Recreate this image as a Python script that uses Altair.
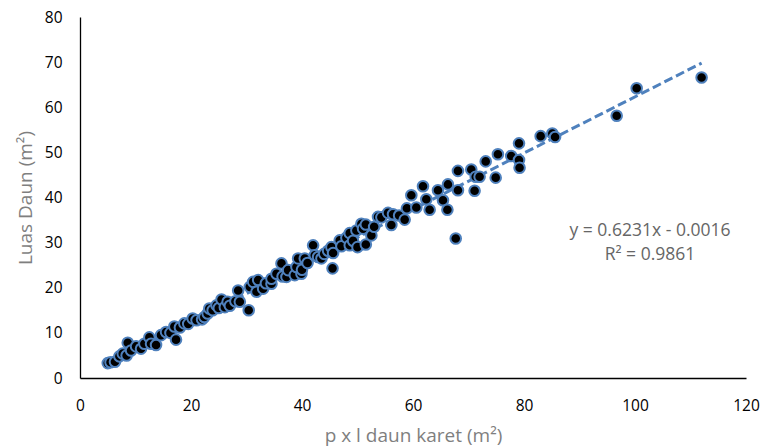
import altair as alt
import pandas as pd

# p x l daun karet (m2)
x_vals = [
    5.0, 5.5, 6.3, 7.1, 7.7, 8.6, 8.4, 9.2, 10.1, 11.0, 11.6, 12.5, 12.8, 13.7, 14.6,
    15.5, 16.3, 17.0, 17.3, 18.0, 18.8, 19.5, 20.3, 21.0, 22.0, 22.4, 23.0, 23.3, 23.9,
    24.6, 25.0, 25.5, 26.1, 26.6, 27.0, 28.0, 28.5, 28.8, 30.4, 30.6, 31.2, 31.8, 32.1,
    33.0, 33.5, 34.5, 34.5, 35.4, 36.3, 36.5, 37.2, 37.5, 38.7, 39.0, 39.3, 39.9, 40.0,
    40.5, 41.0, 42.0, 42.3, 42.9, 43.5, 44.0, 44.7, 45.3, 45.6, 45.5, 46.8, 47.1, 48.0,
    48.6, 48.6, 49.2, 49.8, 50.0, 50.7, 51.0, 51.5, 51.5, 52.5, 53.0, 53.7, 54.3, 55.5,
    56.1, 56.4, 57.5, 58.5, 58.9, 59.7, 60.6, 61.8, 62.4, 63.0, 64.5, 65.4, 66.2, 66.3,
    67.7, 68.1, 68.1, 70.5, 71.1, 71.3, 72.0, 73.1, 74.9, 75.3, 77.7, 79.1, 79.1, 79.2,
    83.0, 85.1, 85.6, 96.7, 100.3, 112.0,
]
# Luas Daun (m2)
y_vals = [
    3.3, 3.5, 3.6, 4.8, 5.4, 7.8, 5.0, 6.1, 7.0, 6.5, 7.6, 9.0, 7.6, 7.3, 9.5,
    10.2, 10.0, 11.4, 8.5, 11.2, 12.1, 12.0, 13.2, 12.8, 13.0, 13.5, 14.3, 15.4, 15.0,
    16.1, 15.5, 17.4, 15.7, 16.9, 16.0, 17.0, 19.4, 16.9, 15.0, 20.2, 21.3, 19.1, 21.7,
    19.8, 21.0, 20.9, 22.0, 23.1, 25.4, 22.5, 22.4, 23.9, 22.8, 24.6, 26.5, 23.1, 24.0,
    26.5, 25.5, 29.4, 27.2, 26.8, 26.5, 27.5, 28.2, 29.0, 27.7, 24.3, 30.5, 29.2, 31.1,
    32.1, 29.4, 30.4, 32.7, 29.0, 34.2, 33.1, 29.6, 34.0, 31.6, 33.5, 35.7, 35.6, 36.6,
    33.9, 36.3, 36.0, 35.1, 37.6, 40.5, 37.8, 42.5, 39.6, 37.3, 41.6, 39.4, 37.3, 42.9,
    30.9, 45.9, 41.6, 46.2, 41.5, 44.6, 44.6, 48.0, 44.4, 49.6, 49.2, 52.0, 48.3, 46.6,
    53.6, 54.2, 53.4, 58.1, 64.2, 66.6,
]

slope = 0.6231
intercept = -0.0016
eq_lines = ["y = 0.6231x - 0.0016", "R² = 0.9861"]

x_ticks = [0, 20, 40, 60, 80, 100, 120]
y_ticks = [0, 10, 20, 30, 40, 50, 60, 70, 80]

pts = pd.DataFrame({"x": x_vals, "y": y_vals})
x_ends = [min(x_vals), max(x_vals)]
trend = pd.DataFrame({"x": x_ends, "y": [slope * v + intercept for v in x_ends]})
ann = pd.DataFrame({"t": ["\n".join(eq_lines)]})

FONT = "Open Sans"
BLUE = "#4F81BD"

xscale = alt.Scale(domain=[0, 120], nice=False, zero=True)
yscale = alt.Scale(domain=[0, 80], nice=False, zero=True)

xaxis = alt.Axis(
    values=x_ticks, grid=False, ticks=False, domainColor="#000000", domainWidth=1.3,
    labelFont=FONT, labelFontSize=15.5, labelColor="#000000", labelPadding=20,
    labelFlush=False,
    title="p x l daun karet (m²)", titleFont=FONT, titleFontSize=19,
    titleFontWeight="normal", titleColor="#7f7f7f", titlePadding=13,
)
yaxis = alt.Axis(
    values=y_ticks, grid=False, ticks=False, domainColor="#000000", domainWidth=1.3,
    labelFont=FONT, labelFontSize=15.5, labelColor="#000000", labelPadding=18,
    labelFlush=False,
    title="Luas Daun (m²)", titleFont=FONT, titleFontSize=19,
    titleFontWeight="normal", titleColor="#7f7f7f", titlePadding=9,
)

trend_layer = alt.Chart(trend).mark_line(
    color=BLUE, strokeWidth=3, strokeDash=[9, 4]
).encode(
    x=alt.X("x:Q", scale=xscale, axis=xaxis),
    y=alt.Y("y:Q", scale=yscale, axis=yaxis),
)

pts_layer = alt.Chart(pts).mark_point(
    filled=False, shape="circle", size=112, fill="#000000", fillOpacity=1,
    stroke=BLUE, strokeWidth=2, opacity=1,
).encode(
    x=alt.X("x:Q", scale=xscale),
    y=alt.Y("y:Q", scale=yscale),
)

ann_layer = alt.Chart(ann).mark_text(
    font=FONT, fontSize=17.5, color="#666666", align="center", baseline="middle",
    lineBreak="\n", lineHeight=24,
).encode(
    x=alt.value(570),
    y=alt.value(214),
    text="t:N",
)

chart = alt.layer(trend_layer, pts_layer, ann_layer).properties(
    width=666, height=361,
    padding={"left": 80, "top": 17, "right": 18, "bottom": 70},
    autosize=alt.AutoSizeParams(type="none"),
).configure_view(stroke=None)

chart.save("out.html", embed_options={"renderer": "svg", "actions": False})
